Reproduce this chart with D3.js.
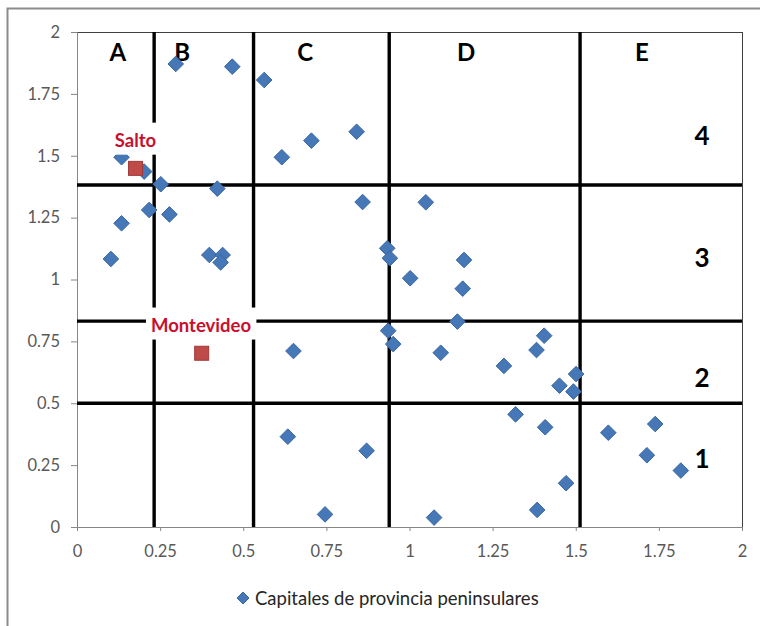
<!DOCTYPE html>
<html>
<head>
<meta charset="utf-8">
<script src="https://cdn.jsdelivr.net/npm/d3@7"></script>
<style>
  html, body { margin: 0; padding: 0; background: #fff; }
  svg { display: block; }
  text { font-family: Lato, "Open Sans", "Liberation Sans", sans-serif; }
</style>
</head>
<body>
<svg id="chart" width="760" height="626"></svg>
<script>
// Provincial capitals: [x, y]
const capitales = [
  [0.297, 1.871], [0.467, 1.860], [0.563, 1.806],
  [0.134, 1.494], [0.202, 1.436], [0.252, 1.385], [0.422, 1.367],
  [0.217, 1.281], [0.278, 1.263], [0.134, 1.227], [0.102, 1.083],
  [0.398, 1.099], [0.438, 1.099], [0.432, 1.069],
  [0.616, 1.494], [0.705, 1.561], [0.841, 1.597], [0.859, 1.313],
  [1.049, 1.312], [0.933, 1.126], [0.941, 1.086], [1.002, 1.005],
  [1.164, 1.079], [1.160, 0.963],
  [1.144, 0.830], [0.936, 0.793], [0.951, 0.739], [1.094, 0.704],
  [1.405, 0.773], [1.382, 0.715], [1.284, 0.651], [1.501, 0.618],
  [1.451, 0.571], [1.493, 0.547],
  [1.319, 0.455], [1.408, 0.403], [1.598, 0.381], [1.739, 0.416],
  [1.714, 0.290], [1.816, 0.228], [1.471, 0.177], [1.384, 0.069],
  [1.074, 0.038],
  [0.651, 0.711], [0.634, 0.365], [0.871, 0.308], [0.746, 0.051]
];

// Uruguayan cities, highlighted
const ciudades = ["Salto", "Montevideo"];
const ciudadesXY = [[0.176, 1.449], [0.375, 0.702]];
const ciudadesLabelXY = [[0.176, 1.565], [0.373, 0.818]];

// Zone boundaries
const cortesX = [0.232, 0.531, 0.939, 1.513];
const cortesY = [0.5, 0.832, 1.382];

// Zone names
const zonasX = ["A", "B", "C", "D", "E"];
const zonasXPos = [0.123, 0.316, 0.686, 1.170, 1.699];
const zonasY = ["4", "3", "2", "1"];
const zonasYPos = [1.584, 1.091, 0.606, 0.279];

const ticks = [0, 0.25, 0.5, 0.75, 1, 1.25, 1.5, 1.75, 2];
const tickLabels = ["0", "0.25", "0.5", "0.75", "1", "1.25", "1.5", "1.75", "2"];
const serieNombre = "Capitales de provincia peninsulares";

const svg = d3.select("#chart");
const plot = { left: 77, right: 742, top: 32, bottom: 527 };

const x = d3.scaleLinear().domain([0, 2]).range([plot.left, plot.right]);
const y = d3.scaleLinear().domain([0, 2]).range([plot.bottom, plot.top]);

// Outer chart frame
svg.append("rect")
  .attr("x", 7.5).attr("y", 8.5)
  .attr("width", 800).attr("height", 700)
  .attr("fill", "#fff")
  .attr("stroke", "#8c8c8c").attr("stroke-width", 2);

// Plot area frame
svg.append("line")
  .attr("x1", plot.left).attr("x2", plot.right)
  .attr("y1", plot.top + 0.5).attr("y2", plot.top + 0.5)
  .attr("stroke", "#404040").attr("stroke-width", 1);
svg.append("line")
  .attr("x1", plot.right + 0.5).attr("x2", plot.right + 0.5)
  .attr("y1", plot.top).attr("y2", plot.bottom)
  .attr("stroke", "#404040").attr("stroke-width", 1);

const tickFmt = (d) => tickLabels[ticks.indexOf(d)];

// Axes
const xAxis = svg.append("g")
  .attr("transform", `translate(0,${plot.bottom})`)
  .call(d3.axisBottom(x).tickValues(ticks).tickFormat(tickFmt).tickSize(4).tickPadding(14));
const yAxis = svg.append("g")
  .attr("transform", `translate(${plot.left},0)`)
  .call(d3.axisLeft(y).tickValues(ticks).tickFormat(tickFmt).tickSize(6).tickPadding(11));

[xAxis, yAxis].forEach(g => {
  g.select(".domain").attr("stroke", "#868686");
  g.selectAll(".tick line").attr("stroke", "#868686");
  g.selectAll(".tick text")
    .attr("fill", "#595959")
    .style("font-size", "16.5px")
    .style("font-family", "Lato, 'Open Sans', sans-serif");
});

// Zone boundary lines
const grid = svg.append("g").attr("stroke", "#000").attr("stroke-width", 3.4);
grid.selectAll("line.v").data(cortesX).join("line")
  .attr("class", "v")
  .attr("x1", d => x(d)).attr("x2", d => x(d))
  .attr("y1", y(2)).attr("y2", y(0));
grid.selectAll("line.h").data(cortesY).join("line")
  .attr("class", "h")
  .attr("x1", x(0)).attr("x2", x(2))
  .attr("y1", d => y(d)).attr("y2", d => y(d));

// Zone names
svg.selectAll("text.zx").data(zonasX).join("text")
  .attr("class", "zx")
  .attr("x", (d, i) => x(zonasXPos[i]))
  .attr("y", y(1.92))
  .attr("text-anchor", "middle")
  .attr("dominant-baseline", "central")
  .attr("font-weight", "bold")
  .attr("font-size", 24)
  .attr("fill", "#000")
  .text(d => d);
svg.selectAll("text.zy").data(zonasY).join("text")
  .attr("class", "zy")
  .attr("x", x(1.88))
  .attr("y", (d, i) => y(zonasYPos[i]))
  .attr("text-anchor", "middle")
  .attr("dominant-baseline", "central")
  .attr("font-weight", "bold")
  .attr("font-size", 26)
  .attr("fill", "#000")
  .text(d => d);

// Diamond markers
const diamond = (cx, cy, r) => `M${cx},${cy - r}L${cx + r},${cy}L${cx},${cy + r}L${cx - r},${cy}Z`;

svg.append("g").selectAll("path").data(capitales).join("path")
  .attr("d", d => diamond(x(d[0]), y(d[1]), 7.8))
  .attr("fill", "#4677B6")
  .attr("stroke", "#3A67A2")
  .attr("stroke-width", 1);

// City labels on white background
const labels = svg.append("g");
ciudades.forEach((name, i) => {
  const t = labels.append("text")
    .attr("x", x(ciudadesLabelXY[i][0]))
    .attr("y", y(ciudadesLabelXY[i][1]))
    .attr("text-anchor", "middle")
    .attr("dominant-baseline", "central")
    .attr("font-weight", "bold")
    .attr("font-size", 18.5)
    .attr("fill", "#C8102E")
    .text(name);
  const bb = t.node().getBBox();
  labels.insert("rect", "text")
    .attr("x", bb.x - 5).attr("y", bb.y - 6)
    .attr("width", bb.width + 10).attr("height", bb.height + 10)
    .attr("fill", "#fff");
});

// City markers
svg.append("g").selectAll("rect").data(ciudadesXY).join("rect")
  .attr("x", d => x(d[0]) - 7).attr("y", d => y(d[1]) - 7)
  .attr("width", 14).attr("height", 14)
  .attr("fill", "#BE4B48")
  .attr("stroke", "#A03A38")
  .attr("stroke-width", 1);

// Legend
const legend = svg.append("g").attr("transform", "translate(243,598)");
legend.append("path")
  .attr("d", diamond(0, 0, 6))
  .attr("fill", "#4677B6").attr("stroke", "#3A67A2");
legend.append("text")
  .attr("x", 12).attr("y", 0)
  .attr("dominant-baseline", "central")
  .attr("font-size", 18.5)
  .attr("fill", "#262626")
  .text(serieNombre);
</script>
</body>
</html>
